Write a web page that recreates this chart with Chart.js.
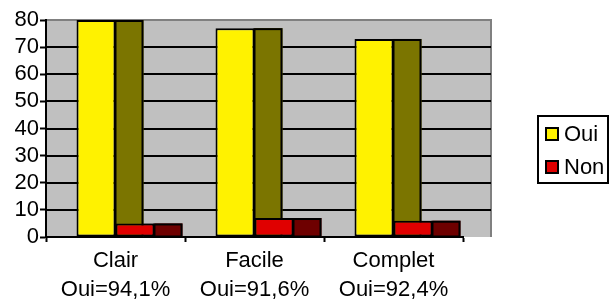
<!DOCTYPE html>
<html lang="fr">
<head>
  <meta charset="UTF-8" />
  <title>Oui / Non</title>
  <style>
    body {
      margin: 0;
      background-color: #ffffff;
    }

    .wrap {
      position: relative;
      width: 609px;
      height: 299px;
    }
  </style>
</head>
<body>
  <div class="wrap">
    <canvas id="chart"></canvas>
  </div>

  <script src="https://cdn.jsdelivr.net/npm/chart.js"></script>
  <script>
    const categories = ["Clair", "Facile", "Complet"];
    const shareLabels = ["Oui=94,1%", "Oui=91,6%", "Oui=92,4%"];
    const oui = [80, 77, 73];
    const non = [5, 7, 6];
    const yTicks = [0, 10, 20, 30, 40, 50, 60, 70, 80];

    const FONT = { family: "'Liberation Sans', Arial, sans-serif", size: 22, lineHeight: 1.32 };
    const DEPTH = 28;

    // back wall, gridlines extended into the depth, and the side faces of the bars
    const fake3d = {
      id: "fake3d",
      beforeDraw(chart) {
        const { ctx, chartArea: a, scales: { y } } = chart;
        ctx.save();
        ctx.fillStyle = "#c0c0c0";
        ctx.fillRect(a.left, a.top, a.right + DEPTH - a.left, a.bottom - a.top);
        ctx.strokeStyle = "#808080";
        ctx.lineWidth = 2;
        ctx.beginPath();
        ctx.moveTo(a.left, a.top);
        ctx.lineTo(a.right + DEPTH, a.top);
        ctx.lineTo(a.right + DEPTH, a.bottom);
        ctx.stroke();
        ctx.strokeStyle = "#000";
        y.ticks.forEach(t => {
          if (t.value <= y.min || t.value >= y.max) return;
          const py = Math.round(y.getPixelForValue(t.value));
          ctx.beginPath();
          ctx.moveTo(a.left, py);
          ctx.lineTo(a.right + DEPTH, py);
          ctx.stroke();
        });
        ctx.restore();
      },
      afterDatasetsDraw(chart) {
        const ctx = chart.ctx;
        chart.data.datasets.forEach((ds, i) => {
          const meta = chart.getDatasetMeta(i);
          if (i > 0) meta.data.forEach(b => b.draw(ctx));
          meta.data.forEach(b => {
            const x0 = b.x + b.width / 2;
            ctx.save();
            ctx.fillStyle = ds.sideColor;
            ctx.strokeStyle = "#000";
            ctx.lineWidth = 2;
            ctx.fillRect(x0, b.y, DEPTH, b.base - b.y);
            ctx.strokeRect(x0, b.y + 1, DEPTH - 1, b.base - b.y - 1);
            ctx.restore();
          });
        });
      },
      afterDraw(chart) {
        const ctx = chart.ctx;
        ctx.save();
        ctx.strokeStyle = "#000";
        ctx.lineWidth = 2;
        ctx.strokeRect(538, 116, 70, 67);
        ctx.font = `${FONT.size}px ${FONT.family}`;
        ctx.textBaseline = "middle";
        chart.data.datasets.forEach((ds, i) => {
          const cy = 134 + i * 33;
          ctx.fillStyle = ds.backgroundColor;
          ctx.fillRect(545, cy - 7, 14, 14);
          ctx.strokeRect(546, cy - 6, 12, 12);
          ctx.fillStyle = "#000";
          ctx.fillText(ds.label, 564, cy + 1);
        });
        ctx.restore();
      }
    };

    new Chart(document.getElementById("chart"), {
      type: "bar",
      data: {
        labels: categories.map((c, i) => [c, shareLabels[i]]),
        datasets: [
          {
            label: "Oui",
            data: oui,
            backgroundColor: "#fff200",
            sideColor: "#7b7500",
            borderColor: "#000",
            borderWidth: 2,
            borderSkipped: false
          },
          {
            label: "Non",
            data: non,
            backgroundColor: "#e00000",
            sideColor: "#6e0000",
            borderColor: "#000",
            borderWidth: 2,
            borderSkipped: false
          }
        ]
      },
      options: {
        responsive: true,
        maintainAspectRatio: false,
        animation: false,
        layout: { padding: { left: 0, top: 20, right: 146, bottom: 0 } },
        datasets: {
          bar: { categoryPercentage: 0.561, barPercentage: 1 }
        },
        plugins: {
          legend: { display: false },
          tooltip: { enabled: false }
        },
        scales: {
          x: {
            grid: { drawOnChartArea: false, offset: true, tickLength: 5, tickColor: "#000", tickWidth: 2 },
            border: { color: "#000", width: 2 },
            ticks: { color: "#000", font: FONT, padding: 4, maxRotation: 0, autoSkip: false },
            afterFit: s => { s.height = 62; }
          },
          y: {
            min: 0,
            max: 80,
            afterBuildTicks: s => { s.ticks = yTicks.map(v => ({ value: v })); },
            grid: { drawOnChartArea: false, tickLength: 6, tickColor: "#000", tickWidth: 2 },
            border: { color: "#000", width: 2 },
            ticks: { color: "#000", font: FONT, padding: 1, autoSkip: false },
            afterFit: s => { s.width = 46; }
          }
        }
      },
      plugins: [fake3d]
    });
  </script>
</body>
</html>
